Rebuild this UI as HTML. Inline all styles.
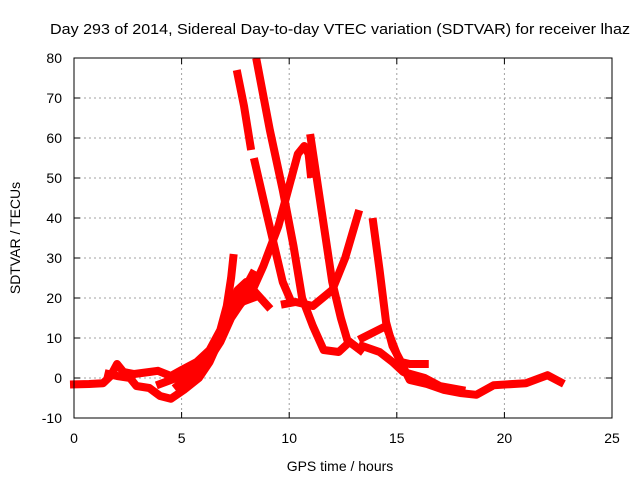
<!DOCTYPE html>
<html><head><meta charset="utf-8"><style>
body{margin:0;background:#fff}
svg{display:block;font-family:"Liberation Sans",sans-serif}
</style></head><body>
<svg id="chart" width="640" height="480" viewBox="0 0 640 480">
<rect width="640" height="480" fill="#fff"/>
<text x="50" y="34" font-size="15" textLength="580" lengthAdjust="spacingAndGlyphs">Day 293 of 2014, Sidereal Day-to-day VTEC variation (SDTVAR) for receiver lhaz</text>
<g id="grid"></g>
<g id="ticks"></g>
<g id="series"></g>
<rect x="74" y="58" width="538" height="360" fill="none" stroke="#000" stroke-width="1"/>
<text transform="translate(20,238) rotate(-90)" font-size="14" text-anchor="middle">SDTVAR / TECUs</text>
<text x="340" y="471" font-size="14" text-anchor="middle">GPS time / hours</text>
</svg>
<script>
const xTicks=[0,5,10,15,20,25];
const yTicks=[-10,0,10,20,30,40,50,60,70,80];
const trackA=[[0,-1.6],[0.7,-1.5],[1.35,-1.3],[1.7,0.5],[2,3.5],[2.3,1.5],[2.8,1],[3.5,1.5],[3.9,1.8],[4.5,0.5],[5,2],[5.7,4],[6.3,7],[6.8,12],[7.1,18],[7.3,25],[7.4,30]];
const trackB=[[1.6,1],[2,0.5],[2.6,0],[2.9,-2],[3.5,-2.5],[4,-4.5],[4.5,-5.2],[5.1,-3],[5.8,0],[6.3,4],[6.8,10],[7.2,17],[7.6,22],[8,24],[8.5,21],[9,18]];
const trackC=[[4,-1.5],[5,0.5],[5.8,3],[6.5,8],[7.2,16],[7.8,21],[8.3,26]];
const trackM=[[4.8,-2],[5.5,1],[6.2,4],[6.8,9],[7.3,15],[7.8,19],[8.3,20]];
const trackD=[[7.5,17],[8.3,22],[8.8,28],[9.5,38],[10,48],[10.4,56],[10.7,58],[10.9,56],[11,51]];
const trackE=[[7.6,76],[7.9,68],[8.2,58]];
const trackF=[[8.4,54],[9,40],[9.7,24],[10.1,19]];
const trackG=[[8.5,79],[9.1,62],[9.7,47],[10.2,33],[10.6,20],[11.1,13],[11.6,7],[12.3,6.5],[12.8,9],[13.3,7]];
const trackH=[[11.0,60],[11.5,42],[12.0,24],[12.4,15],[12.7,9.5],[13.3,7]];
const trackI=[[13.2,41],[12.6,30],[12,22],[11.1,18],[10.3,19],[9.8,18.5]];
const trackJ=[[13.9,39],[14.2,27],[14.5,14],[14.8,8],[15.2,4],[15.6,3.5],[16.3,3.5]];
const trackK=[[13.4,10],[14.5,13],[15.0,6],[15.6,-0.5],[16.4,-1.5],[17.2,-3],[18,-3.8],[18.7,-4.2],[19.5,-1.8],[21,-1.3],[22,0.7],[22.6,-1]];
const trackL=[[13.4,8],[14.2,6.5],[14.8,4],[15.3,1.5],[16.3,0],[17,-2],[18,-3]];
const tracks=[trackA,trackB,trackC,trackM,trackD,trackE,trackF,trackG,trackH,trackI,trackJ,trackK,trackL];
const NS="http://www.w3.org/2000/svg";
const X=h=>74+h*(538/25);
const Y=v=>378-v*4;
const grid=document.getElementById('grid'),ticks=document.getElementById('ticks'),series=document.getElementById('series');
function mk(tag,attrs,parent){const e=document.createElementNS(NS,tag);for(const k in attrs)e.setAttribute(k,attrs[k]);parent.appendChild(e);return e;}
xTicks.forEach(t=>{
  if(t>0&&t<25){const g=mk('line',{x1:X(t),x2:X(t),y1:58,y2:418,stroke:'#a0a0a0','stroke-dasharray':'2,3'},grid);
  
  }
  mk('line',{x1:X(t),x2:X(t),y1:418,y2:412,stroke:'#000'},ticks);
  mk('line',{x1:X(t),x2:X(t),y1:58,y2:64,stroke:'#000'},ticks);
  const l=mk('text',{x:X(t),y:443,'font-size':14,'text-anchor':'middle'},ticks);l.textContent=t;
  
  
});
yTicks.forEach(t=>{
  if(t>-10&&t<80){const g=mk('line',{x1:74,x2:612,y1:Y(t),y2:Y(t),stroke:'#a0a0a0','stroke-dasharray':'2,3'},grid);
  
  }
  mk('line',{x1:74,x2:80,y1:Y(t),y2:Y(t),stroke:'#000'},ticks);
  mk('line',{x1:606,x2:612,y1:Y(t),y2:Y(t),stroke:'#000'},ticks);
  const l=mk('text',{x:62,y:Y(t)+5,'font-size':14,'text-anchor':'end'},ticks);l.textContent=t;
  
  
});
tracks.forEach(tr=>{
  const p=mk('polyline',{points:tr.map(d=>X(d[0])+','+Y(d[1])).join(' '),fill:'none',stroke:'#ff0000','stroke-width':8,'stroke-linejoin':'round','stroke-linecap':'square'},series);
  
  
});
</script>
</body></html>
